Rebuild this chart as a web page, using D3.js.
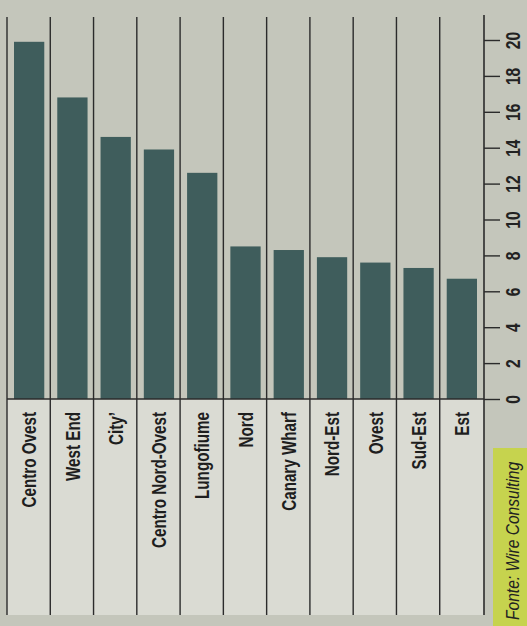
<!DOCTYPE html>
<html>
<head>
<meta charset="utf-8">
<script src="https://cdn.jsdelivr.net/npm/d3@7"></script>
<style>
  body { margin: 0; background: #c4c6bb; }
  svg { display: block; }
</style>
</head>
<body>
<div id="chart"></div>
<script>
// categories and values (rotated newspaper chart)
var categories = ["Centro Ovest", "West End", "City", "Centro Nord-Ovest", "Lungofiume",
  "Nord", "Canary Wharf", "Nord-Est", "Ovest", "Sud-Est", "Est"];
var values = [19.9, 16.8, 14.6, 13.9, 12.6, 8.5, 8.3, 7.9, 7.6, 7.3, 6.7];
var tickValues = [0, 2, 4, 6, 8, 10, 12, 14, 16, 18, 20];
var source = "Fonte: Wire Consulting";

var width = 527, height = 626;
var boxTop = 399, boxBottom = 615;
var font = "'Liberation Sans Narrow', 'Liberation Sans', Arial, sans-serif";

var svg = d3.select("#chart").append("svg")
    .attr("width", width)
    .attr("height", height);

svg.append("rect")
    .attr("width", width)
    .attr("height", height)
    .style("fill", "#c4c6bb");

var x = d3.scaleBand()
    .domain(categories)
    .range([7, 483])
    .padding(0);

var y = d3.scaleLinear()
    .domain([0, 20])
    .range([boxTop, 40]);

var axisX = 484;

// light box under the bars for the labels
svg.append("rect")
    .attr("x", 7)
    .attr("y", boxTop)
    .attr("width", axisX - 7)
    .attr("height", boxBottom - boxTop)
    .style("fill", "#dadbd3");

// bars
svg.selectAll(".bar")
    .data(values)
    .enter().append("rect")
    .attr("class", "bar")
    .attr("x", function(d, i) { return x(categories[i]) + 7; })
    .attr("width", x.bandwidth() - 13)
    .attr("y", function(d) { return y(d); })
    .attr("height", function(d) { return y(0) - y(d); })
    .style("fill", "#3f5d5c");

// separator lines
svg.selectAll(".sep")
    .data(categories)
    .enter().append("line")
    .attr("class", "sep")
    .attr("x1", function(d) { return x(d); })
    .attr("x2", function(d) { return x(d); })
    .attr("y1", 17)
    .attr("y2", boxBottom)
    .style("stroke", "#2b2b2b")
    .style("stroke-width", 1.4);

// baseline of the box
svg.append("line")
    .attr("x1", 7)
    .attr("x2", axisX)
    .attr("y1", boxTop)
    .attr("y2", boxTop)
    .style("stroke", "#2b2b2b")
    .style("stroke-width", 1.4);

// value axis on the right
svg.append("line")
    .attr("x1", axisX)
    .attr("x2", axisX)
    .attr("y1", 15)
    .attr("y2", boxBottom)
    .style("stroke", "#2b2b2b")
    .style("stroke-width", 1.6);

var axis = svg.append("g")
    .attr("transform", "translate(" + axisX + ",0)")
    .call(d3.axisRight(y).tickValues(tickValues).tickSize(16).tickPadding(0));

axis.select(".domain").remove();
axis.selectAll(".tick line")
    .style("stroke", "#2b2b2b")
    .style("stroke-width", 1.4);
// condensed look: squeeze text along its reading direction
axis.selectAll(".tick text")
    .attr("x", 0)
    .attr("dy", null)
    .attr("text-anchor", "middle")
    .attr("dominant-baseline", "central")
    .attr("transform", "translate(29,0) rotate(-90) scale(0.8,1)")
    .style("font-family", font)
    .style("font-weight", "bold")
    .style("font-size", "19.5px")
    .style("fill", "#222");

// category labels, rotated
svg.selectAll(".label")
    .data(categories)
    .enter().append("text")
    .attr("class", "label")
    .attr("transform", function(d) {
        return "translate(" + (x(d) + x.bandwidth() / 2 + 1) + ",412) rotate(-90) scale(0.78,1)";
    })
    .attr("text-anchor", "end")
    .attr("dominant-baseline", "central")
    .style("font-family", font)
    .style("font-weight", "bold")
    .style("font-size", "19.5px")
    .style("fill", "#1e1e1e")
    .text(function(d) { return d === "City" ? "City’" : d; });

// source box
svg.append("rect")
    .attr("x", 493)
    .attr("y", 448)
    .attr("width", width - 493)
    .attr("height", height - 448)
    .style("fill", "#c6d34e");

svg.append("text")
    .attr("transform", "translate(512,620) rotate(-90) scale(0.82,1)")
    .attr("text-anchor", "start")
    .attr("dominant-baseline", "central")
    .style("font-family", font)
    .style("font-style", "italic")
    .style("font-size", "19px")
    .style("fill", "#222")
    .text(source);
</script>
</body>
</html>
